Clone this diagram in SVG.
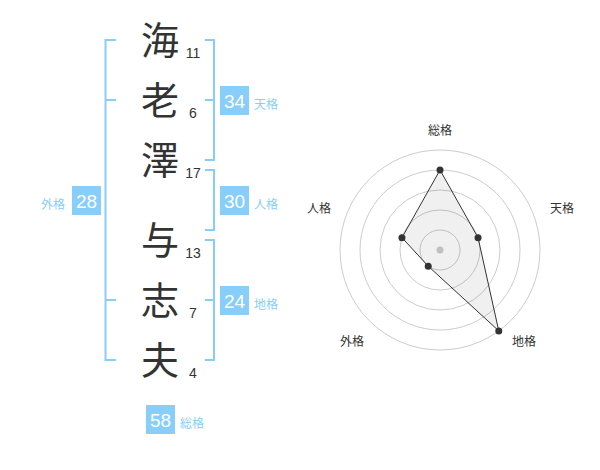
<svg xmlns="http://www.w3.org/2000/svg" width="600" height="470" viewBox="0 0 600 470">
<style>
.k{font-family:"Noto Sans CJK JP","Noto Sans CJK SC",sans-serif;font-size:38px;fill:#333;text-anchor:middle}
.n{font-family:"Liberation Sans",Arial,sans-serif;font-size:14px;fill:#333;text-anchor:middle}
.br{fill:none;stroke:#87CEFA;stroke-width:2}
.box{fill:#87CEFA}
.bn{font-family:"Liberation Sans",Arial,sans-serif;font-size:19px;fill:#fff;text-anchor:middle}
.lb{font-family:"Noto Sans CJK JP","Noto Sans CJK SC",sans-serif;font-size:12px;fill:#87CEFA}
.ring{fill:none;stroke:#ccc;stroke-width:1}
.rl{font-family:"Noto Sans CJK JP","Noto Sans CJK SC",sans-serif;font-size:12px;fill:#333;text-anchor:middle}
.dot{fill:#333}
</style>
<rect width="600" height="470" fill="#fff"/>
<g id="name">
<g id="c1"><text class="k" x="160" y="54">海</text><text class="n" x="193" y="58">11</text></g>
<g id="c2"><text class="k" x="160" y="114">老</text><text class="n" x="193" y="118">6</text></g>
<g id="c3"><text class="k" x="160" y="174">澤</text><text class="n" x="193" y="178">17</text></g>
<g id="c4"><text class="k" x="160" y="254">与</text><text class="n" x="193" y="258">13</text></g>
<g id="c5"><text class="k" x="160" y="314">志</text><text class="n" x="193" y="318">7</text></g>
<g id="c6"><text class="k" x="160" y="374">夫</text><text class="n" x="193" y="378">4</text></g>
</g>
<g id="connectors">
<path class="br" d="M116,40 H105.5 V360 H116 M105.5,100 H116 M105.5,300 H116"/>
<path class="br" d="M205,40 H214 V160 H205 M205,100 H214"/>
<path class="br" d="M205,170 H214 V230 H205"/>
<path class="br" d="M205,240 H214 V360 H205 M205,300 H214"/>
</g>
<g id="tenkaku"><rect class="box" x="220" y="86" width="29" height="29"/><text class="bn" x="234.5" y="108">34</text><text class="lb" x="254" y="109">天格</text></g>
<g id="jinkaku"><rect class="box" x="220" y="186" width="29" height="29"/><text class="bn" x="234.5" y="208">30</text><text class="lb" x="254" y="209">人格</text></g>
<g id="chikaku"><rect class="box" x="220" y="286" width="29" height="29"/><text class="bn" x="234.5" y="308">24</text><text class="lb" x="254" y="309">地格</text></g>
<g id="gaikaku"><rect class="box" x="72" y="186" width="29" height="29"/><text class="bn" x="86.5" y="208">28</text><text class="lb" x="65" y="209" text-anchor="end">外格</text></g>
<g id="soukaku"><rect class="box" x="146" y="405" width="29" height="29"/><text class="bn" x="160.5" y="427">58</text><text class="lb" x="180" y="428">総格</text></g>
<g id="radar">
<circle class="ring" cx="440" cy="250" r="20"/>
<circle class="ring" cx="440" cy="250" r="40"/>
<circle class="ring" cx="440" cy="250" r="60"/>
<circle class="ring" cx="440" cy="250" r="80"/>
<circle class="ring" cx="440" cy="250" r="100"/>
<circle cx="440" cy="250" r="3.5" fill="#ccc"/>
<polygon points="440,170 478.04,237.64 498.78,330.9 428.24,266.18 401.96,237.64" fill="#000" fill-opacity="0.06" stroke="#333" stroke-width="1"/>
<circle class="dot" cx="440" cy="170" r="3.5"/>
<circle class="dot" cx="478.04" cy="237.64" r="3.5"/>
<circle class="dot" cx="498.78" cy="330.9" r="3.5"/>
<circle class="dot" cx="428.24" cy="266.18" r="3.5"/>
<circle class="dot" cx="401.96" cy="237.64" r="3.5"/>
<text class="rl" x="440" y="135">総格</text>
<text class="rl" x="562" y="213">天格</text>
<text class="rl" x="524" y="346">地格</text>
<text class="rl" x="352" y="346">外格</text>
<text class="rl" x="319" y="213">人格</text>
</g>
</svg>
